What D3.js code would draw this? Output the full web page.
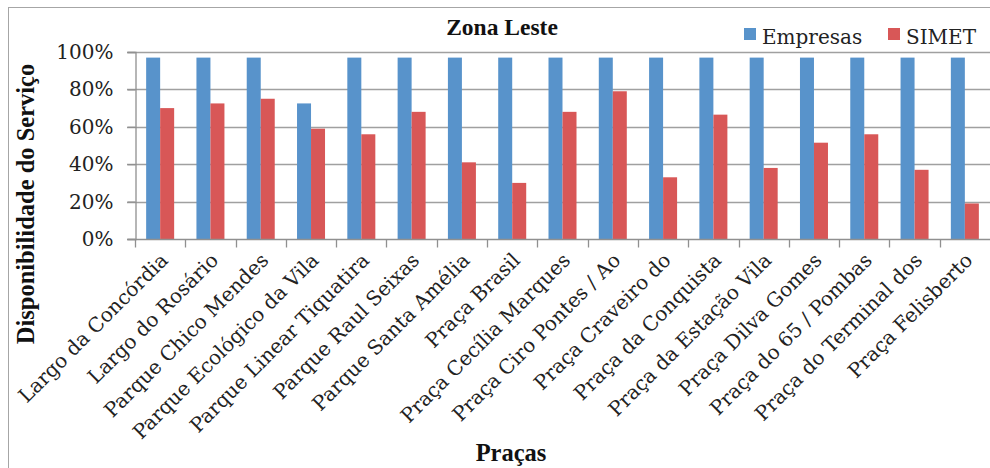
<!DOCTYPE html>
<html>
<head>
<meta charset="utf-8">
<script src="https://cdn.jsdelivr.net/npm/d3@7/dist/d3.min.js"></script>
<style>
  html, body { margin: 0; padding: 0; background: #fff; }
  svg { display: block; }
</style>
</head>
<body>
<script>
// Praças da Zona Leste: disponibilidade do serviço (Empresas x SIMET)
const categories = [
  "Largo da Concórdia", "Largo do Rosário", "Parque Chico Mendes",
  "Parque Ecológico da Vila", "Parque Linear Tiquatira", "Parque Raul Seixas",
  "Parque Santa Amélia", "Praça Brasil", "Praça Cecília Marques",
  "Praça Ciro Pontes / Ao", "Praça Craveiro do", "Praça da Conquista",
  "Praça da Estação Vila", "Praça Dilva Gomes", "Praça do 65 / Pombas",
  "Praça do Terminal dos", "Praça Felisberto"
];
const seriesNames = ["Empresas", "SIMET"];
const empresas = [97, 97, 97, 72.5, 97, 97, 97, 97, 97, 97, 97, 97, 97, 97, 97, 97, 97];
const simet = [70, 72.5, 75, 59, 56, 68, 41, 30, 68, 79, 33, 66.5, 38, 51.5, 56, 37, 19];
const yTicks = [0, 20, 40, 60, 80, 100];

const colors = { "Empresas": "#5893cb", "SIMET": "#d85757" };
const W = 990, H = 468;
const regular = "'DejaVu Serif', serif";
const bold = "'Liberation Serif', 'Times New Roman', serif";

const svg = d3.select("body").append("svg")
  .attr("width", W).attr("height", H);

// outer frame
svg.append("rect")
  .attr("x", 8.5).attr("y", 7.5)
  .attr("width", 1100).attr("height", 600)
  .attr("fill", "#fff").attr("stroke", "#a6a6a6").attr("stroke-width", 1);

const plot = { left: 135, right: 990, top: 52, bottom: 239 };

const x0 = d3.scaleBand().domain(categories).range([plot.left, plot.right]).padding(0);
const groupW = 28;
const x1 = d3.scaleBand().domain(seriesNames)
  .range([(x0.bandwidth() - groupW) / 2, (x0.bandwidth() + groupW) / 2]).padding(0);
const y = d3.scaleLinear().domain([0, 100]).range([plot.bottom, plot.top]);

// gridlines
svg.append("g")
  .selectAll("line")
  .data(yTicks.filter(d => d > 0))
  .join("line")
  .attr("x1", plot.left - 8).attr("x2", plot.right)
  .attr("y1", d => Math.round(y(d)) + 0.5).attr("y2", d => Math.round(y(d)) + 0.5)
  .attr("stroke", "#a0a0a0").attr("stroke-width", 1.3);

// bars
const rows = categories.map((c, i) => ({ cat: c, vals: [
  { key: "Empresas", v: empresas[i] },
  { key: "SIMET", v: simet[i] }
]}));

svg.append("g")
  .selectAll("g")
  .data(rows)
  .join("g")
  .attr("transform", d => `translate(${x0(d.cat)},0)`)
  .selectAll("rect")
  .data(d => d.vals)
  .join("rect")
  .attr("x", d => x1(d.key))
  .attr("width", x1.bandwidth())
  .attr("y", d => y(d.v))
  .attr("height", d => y(0) - y(d.v))
  .attr("fill", d => colors[d.key]);

// y axis
const yAxis = svg.append("g")
  .attr("transform", `translate(${plot.left + 0.5},0)`)
  .call(d3.axisLeft(y).tickValues(yTicks).tickFormat(d => d + "%").tickSize(8).tickPadding(14));
yAxis.select(".domain").attr("stroke", "#909090").attr("stroke-width", 1.3);
yAxis.selectAll(".tick line").attr("stroke", "#909090").attr("stroke-width", 1.3);
yAxis.selectAll(".tick text")
  .attr("font-family", regular).attr("font-size", 20).attr("fill", "#222");

// x axis: ticks at category boundaries
const xAxisG = svg.append("g").attr("transform", `translate(0,${plot.bottom + 0.5})`);
xAxisG.append("line")
  .attr("x1", plot.left - 8).attr("x2", plot.right)
  .attr("stroke", "#909090").attr("stroke-width", 1.3);
xAxisG.selectAll("line.tk")
  .data(categories)
  .join("line")
  .attr("class", "tk")
  .attr("x1", d => Math.round(x0(d)) + 0.5).attr("x2", d => Math.round(x0(d)) + 0.5)
  .attr("y1", 0).attr("y2", 8)
  .attr("stroke", "#909090").attr("stroke-width", 1.3);

xAxisG.selectAll("text")
  .data(categories)
  .join("text")
  .attr("transform", d => `translate(${x0(d) + x0.bandwidth() / 2 + 9},${22}) rotate(-45)`)
  .attr("text-anchor", "end")
  .attr("font-family", regular).attr("font-size", 20).attr("fill", "#222")
  .text(d => d);

// titles
svg.append("text")
  .attr("x", 502).attr("y", 35)
  .attr("text-anchor", "middle")
  .attr("font-family", bold).attr("font-weight", "bold").attr("font-size", 23.5)
  .attr("fill", "#111")
  .text("Zona Leste");

svg.append("text")
  .attr("transform", "translate(34,204) rotate(-90)")
  .attr("text-anchor", "middle")
  .attr("font-family", bold).attr("font-weight", "bold").attr("font-size", 24.5)
  .attr("fill", "#111")
  .text("Disponibilidade do Serviço");

svg.append("text")
  .attr("x", 511).attr("y", 461)
  .attr("text-anchor", "middle")
  .attr("font-family", bold).attr("font-weight", "bold").attr("font-size", 24.5)
  .attr("fill", "#111")
  .text("Praças");

// legend
const legendPos = [{ key: "Empresas", x: 744 }, { key: "SIMET", x: 888 }];
const lg = svg.append("g");
lg.selectAll("rect")
  .data(legendPos)
  .join("rect")
  .attr("x", d => d.x).attr("y", 28)
  .attr("width", 12).attr("height", 12)
  .attr("fill", d => colors[d.key]);
lg.selectAll("text")
  .data(legendPos)
  .join("text")
  .attr("x", d => d.x + 18).attr("y", 44)
  .attr("font-family", regular).attr("font-size", 20).attr("fill", "#222")
  .text(d => d.key);
</script>
</body>
</html>
